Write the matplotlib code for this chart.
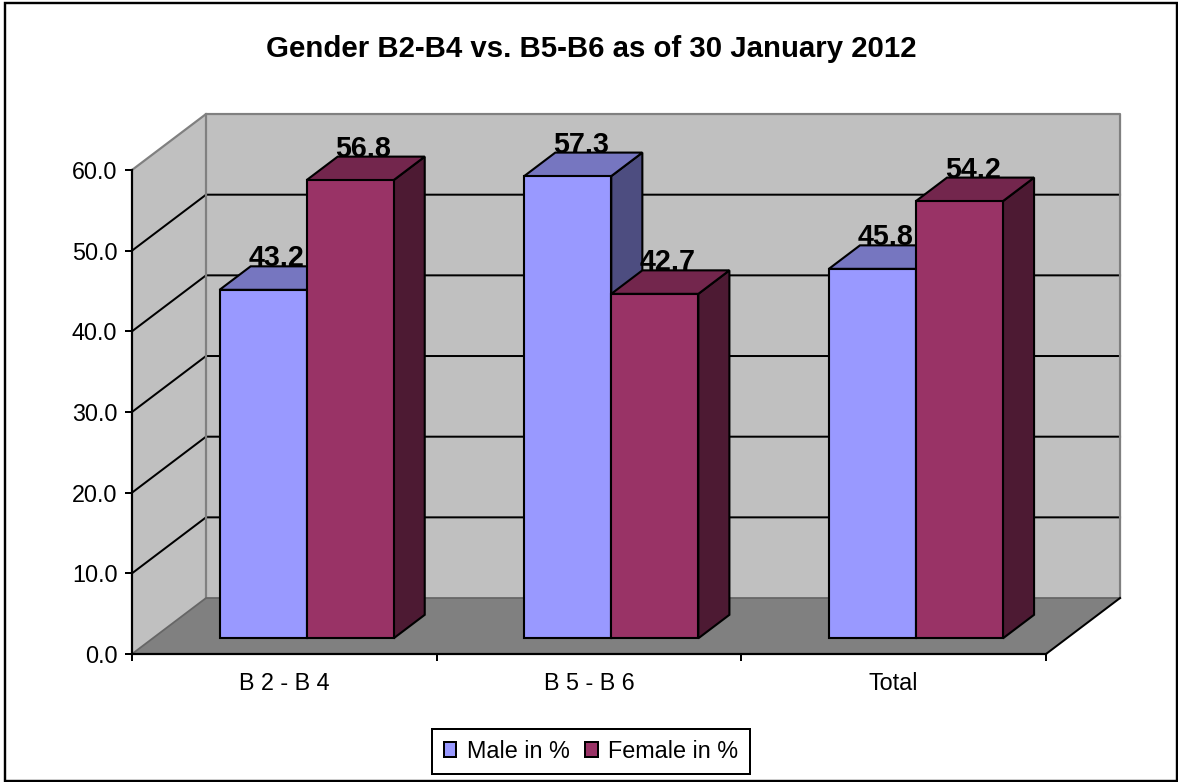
# -*- coding: utf-8 -*-
"""
Gender B2-B4 vs. B5-B6 column chart with a drawn 3D box
"""
import matplotlib
matplotlib.use("Agg")
import matplotlib.pyplot as plt
from matplotlib.patches import Patch, Rectangle

categories = ["B 2 - B 4", "B 5 - B 6", "Total"]
male = [43.2, 57.3, 45.8]
female = [56.8, 42.7, 54.2]
series_names = ["Male in %", "Female in %"]
y_ticks = [0, 10, 20, 30, 40, 50, 60]

# colours: front, top, side
MALE_COLS = ("#9999FF", "#7676C0", "#4D4D80")
FEMALE_COLS = ("#993366", "#73264D", "#4D1A33")

W, H = 1178, 782
FONT = "Liberation Sans"

# box depth in data units
DX = 0.243
DY = 6.94
# where the bars sit inside the box depth
D_FRONT = 0.28
D_BACK = 0.70
BAR_W = 1 / 3.5
GAP = 0.75 * BAR_W + 0.005


def px(v):
    return v * 0.72


def face(ax, pts, color, z, edge="none", lw=0.0):
    ax.fill([p[0] for p in pts], [p[1] for p in pts], facecolor=color,
            edgecolor=edge, linewidth=lw, clip_on=False, zorder=z,
            joinstyle="miter")


def draw_bar(ax, x0, value, cols, z):
    """Draws one column: side and top faces, then the front through ax.bar"""
    fx0 = x0 + D_FRONT * DX
    base = D_FRONT * DY
    dep = D_BACK - D_FRONT
    lw = px(2.1)
    # side
    s0 = (fx0 + BAR_W, base)
    s1 = (fx0 + BAR_W + dep * DX, base + dep * DY)
    s2 = (s1[0], s1[1] + value)
    s3 = (s0[0], base + value)
    face(ax, [s0, s1, s2, s3], cols[2], z, "black", lw)
    # top
    t0 = (fx0, base + value)
    t1 = (fx0 + dep * DX, base + value + dep * DY)
    face(ax, [t0, t1, s2, s3], cols[1], z, "black", lw)
    ax.bar(fx0, value, width=BAR_W, bottom=base, align="edge", color=cols[0],
           edgecolor="black", linewidth=lw, clip_on=False, zorder=z)
    # value label over the top face
    ax.text(fx0 + BAR_W / 2 + 0.18 * DX, base + value + dep * DY, "%.1f" % value,
            ha="center", va="baseline", fontsize=20.7, fontweight="bold",
            family=FONT, color="black", zorder=10, clip_on=False)


plt.rcParams["font.family"] = FONT
fig = plt.figure(figsize=(W / 100, H / 100), dpi=100, facecolor="white")
ax = fig.add_axes([132 / W, (H - 654) / H, 914 / W, 484 / H])
ax.patch.set_visible(False)
n = len(categories)
ax.set_xlim(0, n)
ax.set_ylim(0, 60)

# floor and walls
wall_top = y_ticks[-1]
face(ax, [(0, 0), (n, 0), (n + DX, DY), (DX, DY)], "#808080", 0.5)
face(ax, [(DX, DY), (n + DX, DY), (n + DX, wall_top + DY), (DX, wall_top + DY)],
     "#C0C0C0", 0.5)
face(ax, [(0, 0), (DX, DY), (DX, wall_top + DY), (0, wall_top)], "#C0C0C0", 0.5)

for v in y_ticks[1:-1]:
    ax.plot([0, DX, n + DX], [v, v + DY, v + DY], color="black", lw=px(2),
            clip_on=False, zorder=0.7, solid_joinstyle="miter")

# wall edges
edge_col = "#808080"
ax.plot([0, DX, n + DX, n + DX], [wall_top, wall_top + DY, wall_top + DY, DY],
        color=edge_col, lw=px(2.2), clip_on=False, zorder=0.8)
ax.plot([DX, DX], [DY, wall_top + DY], color=edge_col, lw=px(2.2), clip_on=False,
        zorder=0.8)
ax.plot([0, DX, n + DX], [0, DY, DY], color="#666666", lw=px(1.8), clip_on=False,
        zorder=0.8)
ax.plot([n, n + DX], [0, DY], color="black", lw=px(2), clip_on=False, zorder=0.9)

# columns, left to right so neighbours overlap properly
for i in range(n):
    draw_bar(ax, i + GAP, male[i], MALE_COLS, 2 + i * 2)
    draw_bar(ax, i + GAP + BAR_W, female[i], FEMALE_COLS, 3 + i * 2)

# axes
for s in ["top", "right"]:
    ax.spines[s].set_visible(False)
for s in ["left", "bottom"]:
    ax.spines[s].set_linewidth(px(2.2))
    ax.spines[s].set_zorder(1)
ax.set_yticks(y_ticks)
ax.set_yticklabels(["%.1f" % v for v in y_ticks])
ax.tick_params(axis="y", length=px(7), width=px(2), pad=px(7.5), labelsize=16.8)
ax.set_xticks(range(n + 1))
ax.set_xticklabels([])
ax.set_xticks([i + 0.5 for i in range(n)], labels=categories, minor=True)
ax.tick_params(axis="x", which="major", length=px(7), width=px(2))
ax.tick_params(axis="x", which="minor", length=0, pad=px(18), labelsize=16.8)

fig.text(591.5 / W, (H - 56.7) / H, "Gender B2-B4 vs. B5-B6 as of 30 January 2012",
         ha="center", va="baseline", fontsize=21.2, fontweight="bold")

handles = [Patch(facecolor=MALE_COLS[0], edgecolor="black", linewidth=px(2)),
           Patch(facecolor=FEMALE_COLS[0], edgecolor="black", linewidth=px(2))]
leg = fig.legend(handles, series_names, ncols=2, loc="center",
                 bbox_to_anchor=(591 / W, (H - 751.3) / H), fontsize=16.8,
                 fancybox=False, framealpha=1, edgecolor="black",
                 handlelength=0.55, handleheight=0.6, handletextpad=0.45,
                 columnspacing=0.65, borderpad=0.48, borderaxespad=0)
leg.get_frame().set_linewidth(px(2))

# outer chart border
fig.add_artist(Rectangle((5 / W, (H - 781) / H), 1172 / W, 778 / H, fill=False,
                         edgecolor="black", linewidth=px(2.4),
                         transform=fig.transFigure))

fig.savefig("out.png", dpi=100)
plt.close(fig)
